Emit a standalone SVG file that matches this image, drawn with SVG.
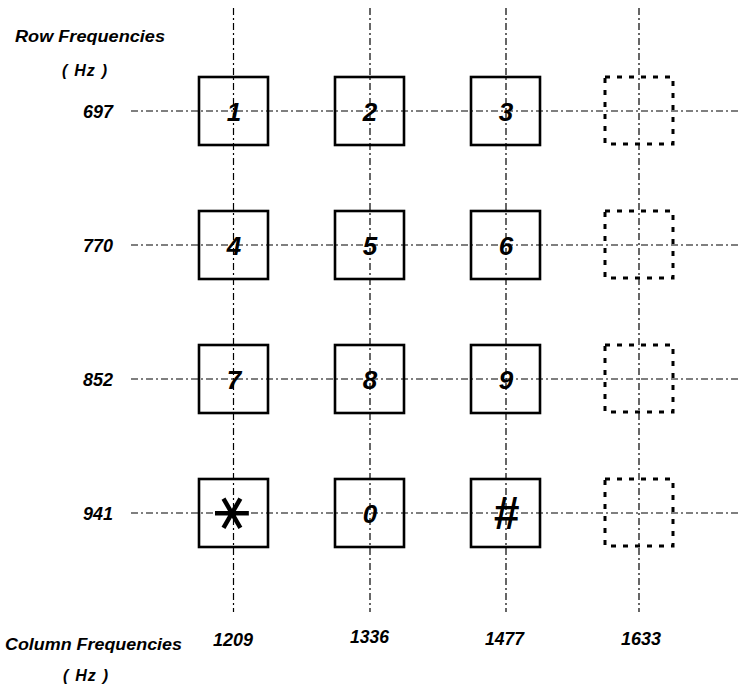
<svg xmlns="http://www.w3.org/2000/svg" width="739" height="687" viewBox="0 0 739 687">
<style>
.axis{stroke:#000;stroke-width:1.2;stroke-dasharray:7 3 2 3;fill:none}
.key{fill:#fff;stroke:#000;stroke-width:2.6}
.ghost{fill:none;stroke:#000;stroke-width:3;stroke-dasharray:5 7}
.lbl{font-family:"Liberation Sans",Arial,sans-serif;font-style:italic;font-weight:bold;font-size:16px;fill:#000}
.num{font-family:"Liberation Sans",Arial,sans-serif;font-style:italic;font-weight:bold;font-size:18px;fill:#000}
.dig{font-family:"Liberation Sans",Arial,sans-serif;font-style:italic;font-weight:bold;font-size:26px;fill:#000;text-anchor:middle}
</style>
<rect width="739" height="687" fill="#fff"/>
<g id="labels">
<text class="lbl" x="15" y="42" textLength="150" lengthAdjust="spacingAndGlyphs">Row  Frequencies</text>
<text class="lbl" x="62" y="76" textLength="45" lengthAdjust="spacing">( Hz )</text>
<text class="num" x="83" y="118" textLength="30" lengthAdjust="spacingAndGlyphs">697</text>
<text class="num" x="83" y="252" textLength="30" lengthAdjust="spacingAndGlyphs">770</text>
<text class="num" x="83" y="386" textLength="30" lengthAdjust="spacingAndGlyphs">852</text>
<text class="num" x="83" y="520" textLength="30" lengthAdjust="spacingAndGlyphs">941</text>
<text class="lbl" x="5" y="650" textLength="177" lengthAdjust="spacingAndGlyphs">Column  Frequencies</text>
<text class="lbl" x="63" y="681" textLength="45" lengthAdjust="spacing">( Hz )</text>
<text class="num" x="213" y="646" textLength="40" lengthAdjust="spacingAndGlyphs">1209</text>
<text class="num" x="350" y="643" textLength="39" lengthAdjust="spacingAndGlyphs">1336</text>
<text class="num" x="485" y="645" textLength="39" lengthAdjust="spacingAndGlyphs">1477</text>
<text class="num" x="621" y="645" textLength="40" lengthAdjust="spacingAndGlyphs">1633</text>
</g>
<g id="keys">
<g id="k1"><rect class="key" x="199" y="77" width="69" height="68"/><text class="dig" x="234" y="121">1</text></g>
<g id="k2"><rect class="key" x="335" y="77" width="69" height="68"/><text class="dig" x="370" y="121">2</text></g>
<g id="k3"><rect class="key" x="471" y="77" width="69" height="68"/><text class="dig" x="506" y="121">3</text></g>
<g id="kA"><rect class="ghost" x="605" y="77" width="68" height="67"/></g>
<g id="k4"><rect class="key" x="199" y="211" width="69" height="68"/><text class="dig" x="234" y="255">4</text></g>
<g id="k5"><rect class="key" x="335" y="211" width="69" height="68"/><text class="dig" x="370" y="255">5</text></g>
<g id="k6"><rect class="key" x="471" y="211" width="69" height="68"/><text class="dig" x="506" y="255">6</text></g>
<g id="kB"><rect class="ghost" x="605" y="211" width="68" height="67"/></g>
<g id="k7"><rect class="key" x="199" y="345" width="69" height="68"/><text class="dig" x="234" y="389">7</text></g>
<g id="k8"><rect class="key" x="335" y="345" width="69" height="68"/><text class="dig" x="370" y="389">8</text></g>
<g id="k9"><rect class="key" x="471" y="345" width="69" height="68"/><text class="dig" x="506" y="389">9</text></g>
<g id="kC"><rect class="ghost" x="605" y="345" width="68" height="67"/></g>
<g id="kstar"><rect class="key" x="199" y="479" width="69" height="68"/><text x="234" y="513" transform="rotate(90 234 513)" dy="0.35em" text-anchor="middle" style="font-family:'DejaVu Sans',sans-serif;font-size:54px;fill:#000">∗</text></g>
<g id="k0"><rect class="key" x="335" y="479" width="69" height="68"/><text class="dig" x="370" y="523">0</text></g>
<g id="khash"><rect class="key" x="471" y="479" width="69" height="68"/><text class="dig" x="506" y="529" style="font-size:46px">#</text></g>
<g id="kD"><rect class="ghost" x="605" y="479" width="68" height="67"/></g>
</g>
<g id="connectors">
<line class="axis" x1="233.5" y1="8" x2="233.5" y2="612"/>
<line class="axis" x1="370" y1="8" x2="370" y2="612"/>
<line class="axis" x1="506" y1="8" x2="506" y2="612"/>
<line class="axis" x1="639" y1="8" x2="639" y2="612"/>
<line class="axis" x1="131" y1="111" x2="739" y2="111"/>
<line class="axis" x1="131" y1="245" x2="739" y2="245"/>
<line class="axis" x1="131" y1="379" x2="739" y2="379"/>
<line class="axis" x1="131" y1="513" x2="739" y2="513"/>
</g>
</svg>
